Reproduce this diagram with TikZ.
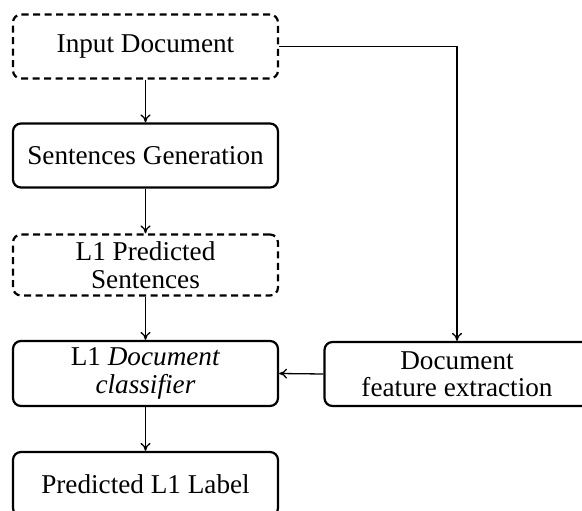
\documentclass[tikz,border=0pt]{standalone}
\usepackage{fontspec}
\setmainfont{Liberation Serif}
\usetikzlibrary{arrows.meta}
\begin{document}
\begin{tikzpicture}[x=1pt,y=1pt,
  box/.style={draw, line width=2.2pt, rounded corners=8pt, minimum width=265pt, minimum height=64pt, align=center, inner sep=0pt, font=\fontsize{27.2}{27.5}\selectfont},
  dbox/.style={box, dash pattern=on 7pt off 4.5pt},
  conn/.style={line width=1.3pt, -{To[length=8pt,width=10pt]}}
]
\useasboundingbox (0,0) rectangle (582,-511);
\node[dbox] (in) at (145.5,-46.5) {Input Document};
\node[box] (sg) at (145.5,-155.5) {Sentences Generation};
\node[dbox, minimum height=61pt] (ps) at (145.5,-265) {L1 Predicted\\Sentences};
\node[box, minimum height=65pt] (cl) at (145.5,-373.5) {L1 \textit{Document}\\\textit{classifier}};
\node[box] (pl) at (145.5,-484) {Predicted L1 Label};
\node[box] (fe) at (457,-374) {Document\\feature extraction};
\draw[conn] (in) -- (sg);
\draw[conn] (sg) -- (ps);
\draw[conn] (ps) -- (cl);
\draw[conn] (cl) -- (pl);
\draw[conn] (in.east) -| (fe.north);
\draw[conn] (fe.west) -- (cl.east);
\end{tikzpicture}
\end{document}
